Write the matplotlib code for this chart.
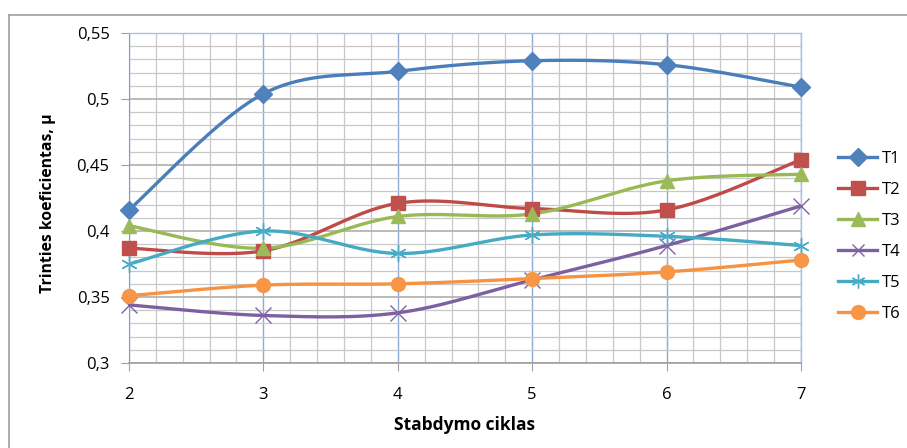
import numpy as np
import matplotlib.pyplot as plt
from matplotlib.lines import Line2D
from matplotlib.ticker import MultipleLocator, FuncFormatter

plt.rcParams['font.family'] = ['Open Sans', 'DejaVu Sans']

cycles = [2, 3, 4, 5, 6, 7]
t1 = [0.416, 0.504, 0.521, 0.529, 0.526, 0.509]
t2 = [0.387, 0.385, 0.421, 0.417, 0.416, 0.454]
t3 = [0.404, 0.387, 0.411, 0.413, 0.438, 0.443]
t4 = [0.344, 0.336, 0.338, 0.363, 0.389, 0.419]
t5 = [0.375, 0.400, 0.383, 0.397, 0.396, 0.389]
t6 = [0.351, 0.359, 0.360, 0.364, 0.369, 0.378]
names = ['T1', 'T2', 'T3', 'T4', 'T5', 'T6']


def smooth(x, y, n=40):
    # cubic bezier through points, Catmull-Rom style control points
    x = np.asarray(x, float)
    y = np.asarray(y, float)
    px = np.concatenate([[x[0]], x, [x[-1]]])
    py = np.concatenate([[y[0]], y, [y[-1]]])
    xs, ys = [], []
    t = np.linspace(0, 1, n)
    for i in range(1, len(px) - 2):
        p0 = np.array([px[i], py[i]])
        p3 = np.array([px[i + 1], py[i + 1]])
        c1 = p0 + (p3 - np.array([px[i - 1], py[i - 1]])) / 6
        c2 = p3 - (np.array([px[i + 2], py[i + 2]]) - p0) / 6
        b = ((1 - t) ** 3)[:, None] * p0 + (3 * (1 - t) ** 2 * t)[:, None] * c1 \
            + (3 * (1 - t) * t ** 2)[:, None] * c2 + (t ** 3)[:, None] * p3
        xs.append(b[:, 0])
        ys.append(b[:, 1])
    return np.concatenate(xs), np.concatenate(ys)


fig = plt.figure(figsize=(9.07, 4.48), dpi=100)
ax = fig.add_axes([0.1422, 0.1897, 0.7409, 0.7366])

# chart area border
fig.add_artist(Line2D([9 / 907, 9 / 907], [0, 1 - 15 / 448], transform=fig.transFigure,
                      color='#a0a0a0', lw=1.2))
fig.add_artist(Line2D([9 / 907, 1], [1 - 15 / 448, 1 - 15 / 448], transform=fig.transFigure,
                      color='#a0a0a0', lw=1.2))

series = [
    (t1, '#4a7ebb', '#4f81bd', 'D', 9, None),
    (t2, '#be4b48', '#c0504d', 's', 10, None),
    (t3, '#98b954', '#9bbb59', '^', 10, None),
    (t4, '#7d60a0', '#8064a2', 'x', 11, 1.0),
    (t5, '#46aac5', '#4bacc6', (6, 2, 0), 12, 1.0),
    (t6, '#f69240', '#f79646', 'o', 10, None),
]

handles = []
for (vals, lc, mc, mk, ms, mew), name in zip(series, names):
    sx, sy = smooth(cycles, vals)
    ax.plot(sx, sy, color=lc, lw=2.4, zorder=3, solid_capstyle='round')
    if mew is None:
        ax.plot(cycles, vals, ls='none', marker=mk, ms=ms, color=mc, mec=mc, zorder=4,
                clip_on=False)
        h = Line2D([], [], color=lc, lw=2.4, marker=mk, ms=ms, mfc=mc, mec=mc)
    else:
        ax.plot(cycles, vals, ls='none', marker=mk, ms=ms, color=mc, mec=mc, mew=mew,
                zorder=4, clip_on=False)
        h = Line2D([], [], color=lc, lw=2.4, marker=mk, ms=ms - 2, mec=mc, mew=mew)
    handles.append(h)

ax.set_xlim(2, 7)
ax.set_ylim(0.3, 0.55)
ax.xaxis.set_major_locator(MultipleLocator(1))
ax.xaxis.set_minor_locator(MultipleLocator(0.2))
ax.yaxis.set_major_locator(MultipleLocator(0.05))
ax.yaxis.set_minor_locator(MultipleLocator(0.01))
ax.yaxis.set_major_formatter(FuncFormatter(lambda v, p: ('%g' % round(v, 2)).replace('.', ',')))

ax.grid(which='minor', color='#c8c8c8', lw=0.9)
ax.grid(which='major', axis='y', color='#b4b4b4', lw=1.3)
ax.grid(which='major', axis='x', color='#8eaad6', lw=1.0)
ax.set_axisbelow(True)

for s in ['top', 'right']:
    ax.spines[s].set_color('#a8c0e4')
    ax.spines[s].set_linewidth(1.0)
ax.spines['left'].set_color('#8c9cb8')
ax.spines['bottom'].set_color('#a0a0a0')
ax.spines['bottom'].set_linewidth(1.2)

ax.tick_params(which='minor', length=0)
ax.tick_params(axis='y', which='major', length=6, color='#a0a0a0', labelsize=12, pad=8)
ax.tick_params(axis='x', which='major', length=6, color='#a0a0a0', labelsize=12, pad=11)

ax.set_ylabel('Trinties koeficientas, μ', fontsize=11.3, fontweight='bold')
ax.set_xlabel('Stabdymo ciklas', fontsize=12.5, fontweight='bold')
ax.yaxis.set_label_coords(-0.108, 0.485)
ax.xaxis.set_label_coords(0.5, -0.160)

fig.legend(handles, names, loc='upper left', bbox_to_anchor=(838 / 907, 1 - 151 / 448),
           frameon=False, fontsize=12, handlelength=2.35, handletextpad=0.3,
           labelspacing=0.9, borderpad=0, borderaxespad=0)

fig.savefig('out.png', dpi=100)
